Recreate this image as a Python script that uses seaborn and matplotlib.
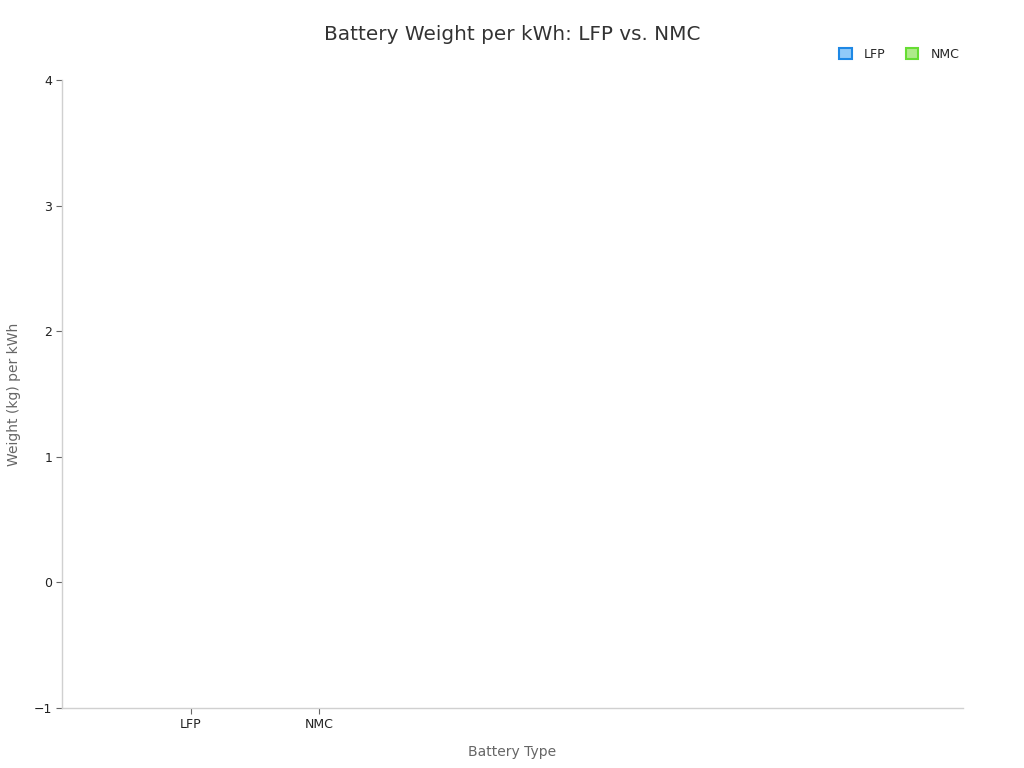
import numpy as np
import pandas as pd
import seaborn as sns
import matplotlib.pyplot as plt
from matplotlib.patches import Patch

# battery types shown on the x axis; the bars themselves are not visible in the chart
categories = ["LFP", "NMC"]
weights = [np.nan, np.nan]  # kg per kWh, nothing drawn in the reference
series_colors = {"LFP": ("#90caf9", "#1e88e5"), "NMC": ("#aeea8a", "#66dd33")}
y_ticks = [-1, 0, 1, 2, 3, 4]

df = pd.DataFrame({"Battery Type": categories, "Weight": weights})

sns.set_theme(style="white")
plt.rcParams['font.family'] = ['DejaVu Sans']

fig = plt.figure(figsize=(10.24, 7.68), dpi=100)
ax = fig.add_axes([0.0605, 0.078, 0.8795, 0.818])

# NaN heights -> no visible bars, like the reference
ax.bar(range(len(categories)), df["Weight"],
       color=[series_colors[c][0] for c in categories],
       edgecolor=[series_colors[c][1] for c in categories])

ax.set_xlim(-1, 6)
ax.set_ylim(-1, 4)
ax.set_xticks(range(len(categories)))
ax.set_xticklabels(categories, fontsize=9, color="#222222")
ax.set_yticks(y_ticks)
ax.set_yticklabels([str(t).replace("-", "\u2212") for t in y_ticks], fontsize=9, color="#222222")
ax.tick_params(axis="both", bottom=True, left=True, length=4, width=0.8,
               color="#666666", pad=3)

sns.despine(ax=ax)
for s in ["left", "bottom"]:
    ax.spines[s].set_color("#d0d0d0")
    ax.spines[s].set_linewidth(1)

ax.set_xlabel("Battery Type", fontsize=10, color="#666666")
ax.set_ylabel("Weight (kg) per kWh", fontsize=10, color="#666666")
ax.xaxis.set_label_coords(0.5, -0.058)
ax.yaxis.set_label_coords(-0.046, 0.5)
fig.suptitle("Battery Weight per kWh: LFP vs. NMC", fontsize=14.4, color="#333333", y=0.968)

handles = [Patch(facecolor=series_colors[c][0], edgecolor=series_colors[c][1], linewidth=1.5, label=c)
           for c in categories]
fig.legend(handles=handles, loc="upper right", bbox_to_anchor=(0.948, 0.952), ncol=2,
           frameon=False, fontsize=9, handlelength=1.0, handleheight=1.0,
           columnspacing=1.6, handletextpad=1.0)

fig.savefig("out.png", dpi=100)
